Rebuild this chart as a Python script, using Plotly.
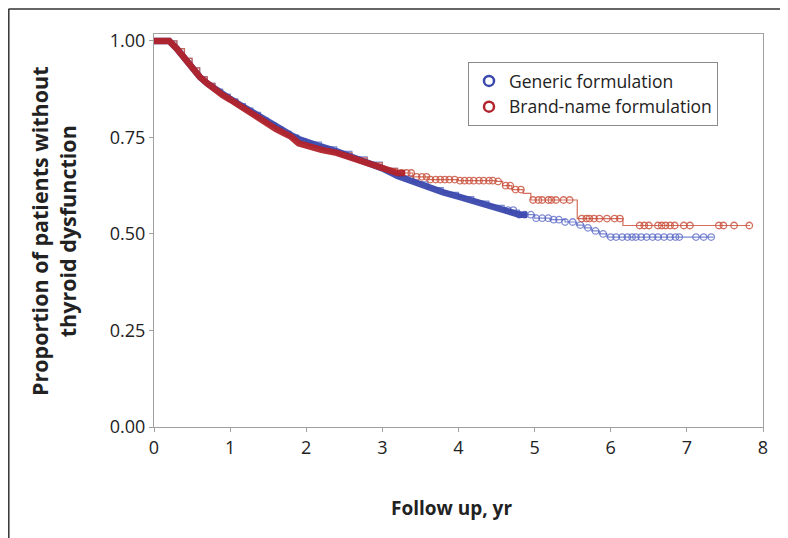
import numpy as np
import plotly.graph_objects as go

# ---------------- data ----------------
generic_t = [0, 0.2, 0.3, 0.4, 0.5, 0.6, 0.7, 0.8, 0.9, 1.0, 1.1, 1.2, 1.3, 1.4, 1.5,
             1.6, 1.7, 1.8, 1.9, 2.0, 2.2, 2.4, 2.6, 2.8, 3.0, 3.2, 3.4, 3.6, 3.8,
             4.0, 4.2, 4.4, 4.6, 4.8, 5.0, 5.2, 5.4, 5.55, 5.65, 5.75, 5.85, 5.95, 7.35]
generic_s = [1.0, 1.0, 0.98, 0.955, 0.93, 0.907, 0.89, 0.875, 0.862, 0.85, 0.838, 0.826,
             0.815, 0.80, 0.788, 0.776, 0.766, 0.756, 0.746, 0.738, 0.726, 0.714, 0.700,
             0.686, 0.670, 0.650, 0.635, 0.620, 0.608, 0.597, 0.585, 0.574, 0.562, 0.550,
             0.541, 0.537, 0.531, 0.523, 0.516, 0.508, 0.500, 0.492, 0.492]
generic_censor = [4.65, 4.72, 4.80, 4.87, 4.95, 5.02, 5.10, 5.18, 5.25, 5.32, 5.40, 5.50,
                  5.60, 5.70, 5.80, 5.90, 6.00, 6.07, 6.15, 6.22, 6.28, 6.33, 6.40, 6.47,
                  6.55, 6.62, 6.70, 6.78, 6.85, 6.90, 7.12, 7.22, 7.32]

brand_t = [0, 0.2, 0.3, 0.4, 0.5, 0.6, 0.7, 0.8, 0.9, 1.0, 1.1, 1.2, 1.3, 1.4, 1.5,
           1.6, 1.7, 1.8, 1.9, 2.0, 2.2, 2.4, 2.6, 2.8, 3.0, 3.2, 3.4, 3.6, 4.0, 4.5,
           4.58, 4.7, 4.85, 4.95, 5.56, 6.16, 7.83]
brand_s = [1.0, 1.0, 0.98, 0.955, 0.93, 0.907, 0.89, 0.873, 0.86, 0.848, 0.835, 0.82,
           0.808, 0.795, 0.782, 0.772, 0.762, 0.752, 0.735, 0.728, 0.718, 0.710, 0.697,
           0.684, 0.670, 0.658, 0.648, 0.641, 0.638, 0.636, 0.625, 0.615, 0.605, 0.588,
           0.540, 0.522, 0.522]
brand_censor = [3.25, 3.32, 3.38, 3.45, 3.52, 3.58, 3.63, 3.70, 3.76, 3.82, 3.88, 3.95,
                4.02, 4.08, 4.14, 4.20, 4.27, 4.33, 4.40, 4.45, 4.52, 4.62, 4.68, 4.75,
                4.82, 4.98, 5.05, 5.10, 5.18, 5.22, 5.28, 5.38, 5.46, 5.62, 5.68, 5.72,
                5.78, 5.85, 5.95, 6.05, 6.12, 6.38, 6.44, 6.50, 6.62, 6.67, 6.72, 6.78,
                6.84, 6.96, 7.04, 7.42, 7.48, 7.62, 7.82]

series_names = ["Generic formulation", "Brand-name formulation"]
x_ticks = [0, 1, 2, 3, 4, 5, 6, 7, 8]
y_ticks = [0, 0.25, 0.5, 0.75, 1.0]
y_tick_text = ["0.00", "0.25", "0.50", "0.75", "1.00"]

# ---------------- styling ----------------
FONT = "Open Sans"
series = [
    dict(t=generic_t, s=generic_s, c=generic_censor, name=series_names[0], dense_end=4.9,
         dark="#3a48ad", light="rgba(85,100,195,0.75)", line="rgba(110,125,205,0.9)"),
    dict(t=brand_t, s=brand_s, c=brand_censor, name=series_names[1], dense_end=3.3,
         dark="#b3232b", light="rgba(200,75,55,0.8)", line="rgba(205,95,75,0.9)"),
]

fig = go.Figure()

def step_value(t, s, x):
    t = np.asarray(t); s = np.asarray(s)
    idx = np.searchsorted(t, x, side="right") - 1
    return s[np.clip(idx, 0, len(s) - 1)]

for sr in series:
    t = np.asarray(sr["t"]); s = np.asarray(sr["s"])
    fig.add_trace(go.Scatter(x=t, y=s, mode="lines", line=dict(shape="hv", color=sr["line"], width=1.2),
                             showlegend=False, hoverinfo="skip"))
    c = np.asarray(sr["c"])
    fig.add_trace(go.Scatter(x=c, y=step_value(t, s, c), mode="markers",
                             marker=dict(symbol="circle-open", size=6.5, color=sr["light"],
                                         line=dict(width=1.3, color=sr["light"])),
                             showlegend=False, hoverinfo="skip"))

# dense band of overlapping censor marks (blue below, red on top)
for sr in series:
    t = np.asarray(sr["t"]); s = np.asarray(sr["s"])
    m = t <= sr["dense_end"]
    td = np.append(t[m], sr["dense_end"])
    sd = np.append(s[m], step_value(t, s, sr["dense_end"]))
    fig.add_trace(go.Scatter(x=td, y=sd, mode="lines", line=dict(shape="linear", color=sr["dark"], width=6.5),
                             opacity=0.95, showlegend=False, hoverinfo="skip"))

for sr in series:
    fig.add_trace(go.Scatter(x=[None], y=[None], mode="markers", name=sr["name"],
                             marker=dict(symbol="circle-open", size=10, color=sr["dark"],
                                         line=dict(width=2.5, color=sr["dark"]))))

axis_common = dict(showline=True, linecolor="#a0a0a0", linewidth=1.2, mirror=True,
                   ticks="outside", ticklen=4, tickcolor="#a0a0a0", showgrid=False,
                   zeroline=False, tickfont=dict(family=FONT, size=18, color="#222"))

fig.update_xaxes(range=[0, 8], tickvals=x_ticks, **axis_common)
fig.update_yaxes(range=[0, 1.018], tickvals=y_ticks, ticktext=y_tick_text, **axis_common)

# page body has an 8px margin: work in screen pixels and convert
OFF = 8
W, H = 780, 530
L, T, R, B = 154 - OFF, 34 - OFF, 763 - OFF, 427 - OFF
def px(xs): return (xs - OFF - L) / (R - L)
def py(ys): return (B - (ys - OFF)) / (B - T)

fig.add_shape(type="line", xref="paper", yref="paper", x0=px(8.5), x1=px(800), y0=py(9), y1=py(9),
              line=dict(color="#333", width=1.5))
fig.add_shape(type="line", xref="paper", yref="paper", x0=px(8.8), x1=px(8.8), y0=py(9), y1=py(545),
              line=dict(color="#333", width=1.5))

fig.add_annotation(xref="paper", yref="paper", x=px(53), y=py(231), textangle=-90,
                   xanchor="center", yanchor="middle",
                   text="<b>Proportion of patients without<br>thyroid dysfunction</b>",
                   showarrow=False, font=dict(family=FONT, size=21.5, color="#222"))
fig.add_annotation(xref="paper", yref="paper", x=px(451), y=py(508),
                   xanchor="center", yanchor="middle",
                   text="<b>Follow up, yr</b>", showarrow=False,
                   font=dict(family=FONT, size=19, color="#222"))

fig.update_layout(
    width=W, height=H,
    margin=dict(l=L, r=W - R, t=T, b=H - B),
    plot_bgcolor="white", paper_bgcolor="white",
    showlegend=True,
    legend=dict(x=px(468), y=py(62), xanchor="left", yanchor="top",
                bordercolor="#8a8a8a", borderwidth=1, bgcolor="white",
                font=dict(family=FONT, size=17.5, color="#222"),
                itemwidth=30, tracegroupgap=0),
)

fig.write_html("out.html")
